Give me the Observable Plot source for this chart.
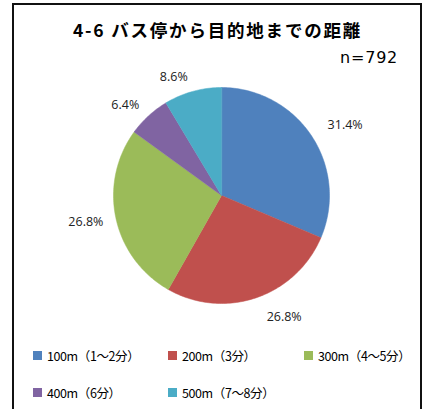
<!DOCTYPE html>
<html><head><meta charset="utf-8">
<script src="https://cdn.jsdelivr.net/npm/d3@7"></script>
<script src="https://cdn.jsdelivr.net/npm/@observablehq/plot@0.6"></script>
<style>
html,body{margin:0;padding:0;background:#fff;}
#wrap{position:relative;width:429px;height:409px;overflow:hidden;font-family:"Noto Sans CJK JP",sans-serif;color:#000;}
#frame{position:absolute;left:12px;top:3px;width:410px;height:420px;border:2px solid #111;box-sizing:border-box;}
#title{position:absolute;left:0;width:429px;top:17px;text-align:center;font-size:17.5px;font-weight:bold;letter-spacing:1.8px;padding-left:6px;box-sizing:border-box;white-space:nowrap;}
#n{position:absolute;left:340px;top:48px;font-size:16px;letter-spacing:0.8px;font-family:"DejaVu Sans",sans-serif;}
#chart{position:absolute;left:0;top:0;}
.leg{position:absolute;font-size:12.5px;letter-spacing:-0.4px;white-space:nowrap;display:flex;align-items:center;}
.leg i{display:inline-block;width:9px;height:9px;margin-right:5px;}
</style></head>
<body>
<div id="wrap">
<div id="frame"></div>
<div id="title">4-6 バス停から目的地までの距離</div>
<div id="n">n=792</div>
<div id="chart"></div>
</div>
<script>
const categories = ["100m（1～2分）","200m（3分）","300m（4～5分）","400m（6分）","500m（7～8分）"];
const values = [31.4, 26.8, 26.8, 6.4, 8.6];
const colors = ["#4F81BD","#C0504D","#9BBB59","#8064A2","#4BACC6"];
const labels = ["31.4%","26.8%","26.8%","6.4%","8.6%"];

const data = categories.map((c,i)=>({cat:c, value:values[i], label:labels[i]}));
const arcs = d3.pie().sort(null).value(d=>d.value).startAngle(0).endAngle(2*Math.PI)(data);

// slice polygons in unit-circle coordinates
const poly = [];
arcs.forEach(a=>{
  poly.push({cat:a.data.cat, x:0, y:0});
  const n = Math.max(2, Math.ceil((a.endAngle-a.startAngle)/0.02));
  for(let k=0;k<=n;k++){
    const t = a.startAngle + (a.endAngle-a.startAngle)*k/n;
    poly.push({cat:a.data.cat, x:Math.sin(t), y:Math.cos(t)});
  }
});
const lab = arcs.map(a=>{
  const m=(a.startAngle+a.endAngle)/2;
  return {label:a.data.label, x:1.1*Math.sin(m), y:1.1*Math.cos(m), right:Math.sin(m)>0, c:Math.cos(m)};
});

const cx=221, cy=195, r=108;
const chart = Plot.plot({
  width:429, height:409, margin:0,
  x:{domain:[-1,1], range:[cx-r,cx+r], axis:null},
  y:{domain:[-1,1], range:[cy+r,cy-r], axis:null},
  color:{domain:categories, range:colors},
  style:{fontFamily:"'Open Sans',sans-serif", background:"transparent"},
  marks:[
    Plot.line(poly,{x:"x",y:"y",z:"cat",fill:"cat",stroke:"cat",strokeWidth:0.5,curve:"linear-closed"}),
    Plot.text(lab.filter(d=>d.right),{x:"x",y:"y",text:"label",textAnchor:"start",dx:7,dy:-6,fontSize:12.5,fill:"#222"}),
    Plot.text(lab.filter(d=>!d.right),{x:"x",y:"y",text:"label",textAnchor:"end",dx:-2,dy:-4,fontSize:12.5,fill:"#222"})
  ].map((m,i)=>m)
});
// vertical offset for labels depends on angle: adjust via data-driven transform
chart.querySelectorAll("g[aria-label='text']").forEach((g,gi)=>{
  const subset = lab.filter(d=> gi===0 ? d.right : !d.right);
  g.querySelectorAll("text").forEach((t,k)=>{
    const c = subset[k].c;
    const extra = gi===0 ? (-c*9 + 6) : (-c*4 + 4);
    t.setAttribute("dy", (parseFloat(t.getAttribute("dy")||0)+extra)+"");
  });
});
document.getElementById("chart").appendChild(chart);

// legend
const pos = [[33,355],[168,355],[304,355],[33,392],[168,392]];
const wrap = document.getElementById("wrap");
categories.forEach((c,i)=>{
  const d=document.createElement("div");
  d.className="leg";
  d.style.left=pos[i][0]+"px"; d.style.top=(pos[i][1]-10)+"px"; d.style.height="20px";
  d.innerHTML=`<i style="background:${colors[i]}"></i><span>${c}</span>`;
  wrap.appendChild(d);
});
</script>
</body></html>
